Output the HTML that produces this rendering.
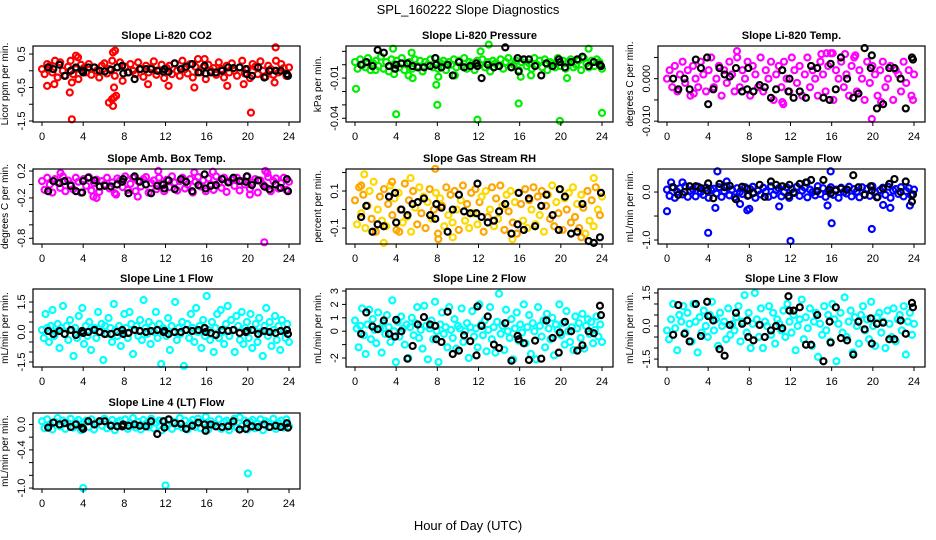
<!DOCTYPE html>
<html><head><meta charset="utf-8"><style>
html,body{margin:0;padding:0;background:#fff;}
svg{display:block;font-family:"Liberation Sans",Arial,sans-serif;}
</style></head><body>
<svg id="chart" width="936" height="540" viewBox="0 0 936 540">
<rect width="936" height="540" fill="#fff"/>
<text x="468" y="14" text-anchor="middle" font-size="13">SPL_160222  Slope Diagnostics</text>
<text x="468" y="530" text-anchor="middle" font-size="13">Hour of Day (UTC)</text>
</svg>
<script>
const blackHours=[0.6,1.1,1.7,2.2,2.8,3.3,3.9,4.0,4.5,5.1,5.6,6.1,6.7,7.3,7.8,7.9,8.4,9.0,9.5,10.1,10.6,11.2,11.8,11.9,12.3,12.9,13.5,14.0,14.6,15.2,15.8,15.9,16.4,16.9,17.5,18.1,18.6,19.2,19.8,19.9,20.4,21.0,21.6,22.1,22.7,23.2,23.8,23.9];
const xTicks=[0,4,8,12,16,20,24];

const co2Vals=[0.05,-0.1,0.2,0.15,-0.05,0.3,-0.2,0.25,0.0,-0.15,0.12,0.3,-0.1,0.05,-0.25,0.18,0.08,-0.05,0.2,-0.12,0.1,0.0,-0.2,0.15,0.22,-0.08,0.05,0.3,-0.15,0.1,0.25,-0.3,0.12,-0.05,0.2,0.0,-0.1,0.25,0.05,-0.18,0.15,-0.05,0.1,0.28,-0.12,0.0,0.18,-0.22,0.08,0.15,-0.1,0.22,0.0,-0.15,0.3,0.05,-0.08,0.2,-0.2,0.12,0.35,-0.05,0.1,-0.25,0.18,0.0,0.08,-0.12,0.25,0.05,-0.2,0.15,-0.05,0.22,0.0,-0.15,0.1,0.3,-0.08,0.05,-0.22,0.2,0.12,-0.1,0.28,0.0,-0.18,0.15,0.05,-0.12,0.3,-0.05,0.2,0.08,-0.15,0.1];
const co2Extra=[[0.5,-0.45],[1.2,-0.4],[2.7,-0.65],[2.9,-0.35],[2.9,-1.45],[3.3,0.45],[6.5,-0.95],[6.8,-0.85],[6.9,-1.05],[7.0,-0.8],[7.2,-0.75],[7.1,0.6],[6.9,0.55],[7.0,-0.5],[10.3,-0.4],[12.3,-0.45],[14.8,-0.5],[18.0,-0.45],[19.6,-0.4],[20.3,-1.25],[22.7,0.7],[22.6,-0.35],[3.5,0.4],[15.8,0.35]];
const co2Black=[0.1,0.05,0.18,-0.15,0.0,0.1,0.0,-0.05,0.1,0.1,0.0,-0.02,0.03,0.1,0.15,-0.08,-0.05,-0.25,0.05,0.05,0.05,0.0,-0.02,0.05,-0.03,0.22,0.05,0.12,0.2,-0.05,0.15,-0.08,-0.05,-0.05,0.0,0.1,0.08,0.1,0.05,-0.1,-0.15,0.1,-0.2,0.0,0.0,0.0,-0.1,-0.15];

const presVals=[0.002,-0.003,0.004,0.0,-0.002,0.005,-0.004,0.001,0.003,-0.001,0.006,-0.003,0.002,-0.005,0.004,0.0,0.003,-0.002,0.005,-0.004,0.001,0.002,-0.003,0.004,-0.001,0.003,-0.005,0.002,0.0,0.004,-0.002,0.005,-0.003,0.001,0.003,-0.004,0.002,0.0,0.004,-0.002,0.003,-0.001,0.005,-0.003,0.002,0.001,-0.004,0.003,0.0,0.004,-0.002,0.002,-0.005,0.003,0.001,-0.001,0.004,-0.003,0.002,0.005,-0.002,0.0,0.003,-0.004,0.002,0.004,-0.001,0.001,-0.003,0.005,0.0,0.003,-0.002,0.004,-0.004,0.002,0.001,-0.002,0.005,-0.001,0.003,-0.003,0.002,0.004,-0.002,0.0,0.003,-0.004,0.005,0.001,-0.002,0.003,-0.001,0.004,0.002,-0.003];
const presExtra=[[0.1,-0.018],[3.7,0.012],[3.8,-0.007],[4.0,-0.037],[5.5,0.009],[5.2,-0.008],[5.6,-0.010],[7.9,-0.015],[8.0,-0.030],[8.1,-0.009],[11.9,-0.041],[12.2,0.010],[13.0,0.015],[15.9,-0.029],[16.1,-0.009],[17.1,-0.008],[19.9,-0.042],[20.6,-0.010],[22.7,0.012],[24.0,-0.036],[2.0,-0.004],[9.7,-0.008]];
const presBlack=[0.0,0.002,-0.001,0.011,0.009,-0.001,-0.003,0.0,0.001,0.001,-0.001,-0.002,-0.002,-0.001,0.005,0.0,-0.002,0.0,-0.008,0.002,-0.002,-0.001,0.001,-0.001,-0.010,0.0,-0.002,-0.001,0.013,-0.002,0.005,-0.005,0.004,0.004,-0.001,-0.008,0.001,-0.001,0.004,0.002,-0.002,0.002,0.004,0.006,-0.001,0.002,0.0,-0.001];

const tempVals=[0.0,0.002,-0.002,0.003,-0.003,0.001,0.004,-0.001,0.002,-0.004,0.003,0.0,-0.002,0.004,0.001,-0.003,0.002,0.005,-0.002,0.0,0.003,-0.004,0.002,-0.001,0.004,0.001,-0.003,0.005,-0.002,0.002,0.0,0.004,-0.004,0.003,0.001,-0.002,0.005,-0.003,0.002,0.0,0.004,-0.005,0.001,0.003,-0.002,0.004,0.0,-0.003,0.005,0.002,-0.001,0.003,-0.004,0.001,0.005,-0.002,0.002,0.0,-0.004,0.004,0.001,-0.003,0.003,0.006,-0.005,0.002,0.0,0.004,-0.002,0.001,-0.004,0.003,0.005,-0.003,0.002,0.0,-0.005,0.004,-0.001,0.003,0.001,-0.004,0.002,0.004,-0.002,0.0,0.003,-0.005,0.002,0.001,-0.003,0.004,-0.001,0.002,-0.004,0.001];
const tempExtra=[[6.8,0.0065],[11.2,-0.0055],[11.3,-0.006],[15.0,0.0058],[15.5,0.006],[17.3,0.0058],[18.3,0.0055],[19.9,-0.0095],[20.8,-0.0055],[23.9,-0.005],[2.6,-0.0035],[16.1,0.006]];
const tempBlack=[0.0,-0.0025,0.0,-0.0025,0.0045,0.0025,0.005,-0.006,-0.0025,0.0025,0.001,0.0005,0.0025,-0.003,-0.0025,0.0025,-0.003,-0.0015,-0.002,-0.0045,-0.0025,0.002,-0.003,0.0,-0.0045,-0.003,-0.0045,0.003,0.0025,-0.0045,-0.005,0.0035,-0.0025,0.005,0.0,-0.0045,-0.0035,0.0072,0.0025,0.0055,-0.007,-0.006,0.0025,0.0025,0.0,-0.007,0.005,0.0045];

const ambVals=[0.05,-0.08,0.1,0.0,-0.12,0.08,0.03,-0.05,0.12,-0.1,0.06,0.0,-0.07,0.1,0.04,-0.12,0.08,-0.02,0.11,-0.09,0.02,0.07,-0.11,0.05,0.0,0.1,-0.06,0.03,-0.13,0.09,0.06,-0.04,0.12,-0.08,0.01,0.1,-0.1,0.05,-0.03,0.08,0.11,-0.12,0.02,0.06,-0.07,0.1,0.0,-0.1,0.07,-0.04,0.12,0.03,-0.09,0.05,0.1,-0.06,0.0,0.08,-0.12,0.04,0.11,-0.03,0.06,-0.1,0.09,0.0,-0.08,0.12,0.02,-0.05,0.1,-0.11,0.04,0.07,-0.02,0.1,-0.09,0.05,0.0,0.12,-0.07,0.03,0.08,-0.12,0.06,0.0,-0.04,0.11,-0.1,0.05,0.09,-0.06,0.02,0.1,-0.08,0.04];
const ambExtra=[[1.8,0.17],[5.0,-0.18],[5.3,-0.2],[7.2,-0.15],[9.3,-0.18],[11.3,0.2],[14.8,0.18],[16.6,0.19],[21.7,0.2],[21.9,0.17],[21.6,-0.86],[20.2,-0.15]];
const ambBlack=[-0.1,0.05,0.02,0.05,-0.02,-0.1,-0.12,0.05,0.1,0.06,-0.03,-0.02,-0.03,0.0,0.04,0.08,-0.13,0.12,0.04,0.0,-0.13,-0.02,0.0,-0.06,0.06,-0.07,0.08,0.04,-0.1,-0.01,0.15,-0.06,-0.02,-0.01,0.08,0.03,0.1,0.05,0.04,0.12,-0.01,0.06,-0.03,-0.07,0.0,-0.05,0.08,-0.1];

const rhVals=[0.05,-0.08,0.12,-0.02,0.08,-0.1,0.02,0.1,-0.05,0.15,-0.12,0.0,0.07,-0.06,0.11,-0.09,0.03,0.13,-0.03,0.06,-0.11,0.09,0.0,-0.07,0.14,-0.04,0.05,-0.12,0.1,0.01,-0.08,0.12,-0.02,0.07,-0.1,0.04,0.11,-0.05,0.0,0.09,-0.13,0.06,0.02,-0.09,0.12,-0.03,0.08,-0.07,0.1,0.0,-0.11,0.05,0.13,-0.06,0.03,-0.1,0.09,-0.02,0.11,-0.08,0.04,0.07,-0.12,0.1,-0.04,0.0,0.12,-0.09,0.06,-0.05,0.13,0.02,-0.11,0.08,-0.01,0.1,-0.07,0.04,-0.13,0.09,0.03,-0.06,0.11,-0.1,0.05,0.0,0.12,-0.08,0.07,-0.03,0.1,-0.12,0.02,0.08,-0.05,0.13,-0.09,0.04,-0.02,0.11,-0.11,0.06,0.0,0.09,-0.07,0.12,-0.04,0.03,-0.1,0.08,0.01,-0.13,0.1,-0.06,0.05,-0.09,0.12,0.0,-0.03,0.07];
const rhExtra=[[0.6,0.13],[0.9,0.19],[3.6,0.15],[5.4,0.17],[7.8,0.22],[2.8,-0.18],[8.1,-0.16],[15.3,-0.16],[22.0,-0.15],[23.2,0.17],[4.3,-0.12],[9.5,-0.15]];
const rhBlack=[-0.04,0.02,-0.12,-0.08,-0.09,0.07,0.09,-0.07,0.0,-0.03,0.03,0.04,0.06,-0.03,-0.05,0.03,0.01,-0.12,0.0,0.08,-0.01,-0.02,-0.02,0.14,-0.04,-0.07,-0.06,-0.01,0.03,-0.13,-0.08,0.09,-0.11,0.06,-0.09,0.02,0.08,-0.03,-0.11,0.11,0.07,-0.13,-0.12,0.03,-0.17,-0.18,-0.15,0.09];

const flowVals=[0.05,-0.08,0.1,-0.12,0.0,0.08,-0.05,0.12,-0.1,0.03,0.06,-0.09,0.11,0.0,-0.06,0.09,-0.12,0.04,0.07,-0.03,0.1,-0.1,0.02,0.12,-0.07,0.05,-0.11,0.08,0.0,-0.04,0.1,-0.08,0.06,0.11,-0.12,0.03,-0.05,0.09,0.01,-0.1,0.12,-0.06,0.04,0.08,-0.09,0.0,0.1,-0.12,0.06,-0.02,0.11,-0.08,0.03,0.09,-0.11,0.05,0.0,-0.07,0.12,-0.04,0.08,-0.1,0.02,0.1,-0.06,0.05,-0.12,0.09,0.0,-0.03,0.11,-0.09,0.06,0.01,-0.11,0.1,-0.05,0.07,-0.08,0.12,0.0,-0.1,0.04,0.09,-0.06,0.11,-0.12,0.03,0.06,-0.04,0.1,-0.09,0.02,0.08,-0.07,0.05];
const flowExtra=[[0.0,-0.4],[0.4,0.2],[1.5,0.2],[4.0,-0.85],[4.7,-0.33],[4.9,0.43],[5.8,0.22],[7.1,-0.25],[7.8,-0.38],[8.0,-0.35],[10.9,-0.3],[12.0,-1.02],[15.9,0.43],[16.0,-0.65],[15.6,-0.28],[19.9,-0.77],[21.0,-0.27],[21.7,-0.33],[23.6,-0.28],[13.6,0.2]];
const flowBlack=[0.1,-0.06,0.0,0.12,0.12,0.08,0.03,0.18,-0.13,0.17,0.1,0.13,-0.15,0.11,0.07,-0.07,-0.02,0.15,-0.1,0.22,0.15,0.12,-0.08,0.15,-0.01,0.17,0.2,0.25,0.02,0.25,0.05,-0.03,0.03,0.07,0.05,0.35,0.1,-0.06,0.12,0.03,-0.11,0.07,0.17,0.27,0.0,0.22,-0.2,-0.05];

const l1Vals=[0.1,-0.3,0.9,0.2,-0.5,0.3,1.1,-0.2,0.0,0.4,-0.8,0.2,1.3,-0.1,0.3,-0.4,0.6,0.1,-1.2,0.2,-0.3,0.8,0.0,1.2,-0.6,0.3,-0.2,0.5,-0.9,0.1,0.2,-0.3,1.0,0.0,0.4,-1.4,0.3,-0.1,0.7,0.2,-0.5,1.4,0.1,-0.2,0.3,-0.7,0.0,0.9,0.2,-0.3,1.0,0.4,-1.1,0.1,0.3,-0.2,0.6,-0.4,1.6,0.2,-0.1,0.5,-0.6,0.3,0.0,1.0,-0.3,0.4,-1.6,0.2,0.1,-0.2,0.7,-0.9,0.3,0.0,1.5,-0.4,0.2,-0.1,0.5,-1.7,0.1,0.4,-0.3,0.9,0.2,-0.5,1.2,0.0,0.3,-0.8,0.6,-0.2,1.8,0.1,-0.4,0.5,-1.0,0.2,0.9,-0.3,1.1,0.0,-0.6,0.4,1.3,-0.2,0.6,0.1,-1.0,0.8,0.3,-0.4,1.0,-0.6,0.2,0.5,-0.3,0.9,-0.8,0.1,0.4,-0.5,0.7,0.0,-1.2,0.3,1.2,-0.2,0.5,-0.7,0.1,0.8,-0.4,0.3,-0.9,0.6,0.0,-0.3,0.4,-0.5];
const l1Black=[0.05,-0.1,0.05,-0.1,0.1,-0.15,0.05,-0.05,0.0,0.1,0.0,-0.1,-0.1,0.0,0.1,-0.1,-0.05,0.1,0.05,0.0,0.05,0.1,0.0,0.05,-0.1,0.0,0.0,0.1,0.05,0.1,0.2,0.0,-0.05,-0.15,0.1,0.05,0.1,-0.05,0.0,0.05,0.1,-0.1,0.05,0.0,-0.05,0.05,0.1,-0.1];

const l2Vals=[0.8,0.2,-1.2,0.4,1.7,-0.3,-1.7,0.5,1.6,-0.6,0.9,0.1,-0.9,1.4,0.2,-1.6,0.6,-0.2,1.2,0.3,-0.8,2.3,0.0,-2.3,0.7,-0.4,1.1,0.2,-1.0,0.5,-2.0,0.3,1.0,-0.3,0.6,1.8,-0.5,0.1,-1.3,1.9,0.4,-2.1,0.2,0.8,-0.6,2.2,0.0,-2.3,0.5,1.4,-0.2,0.3,-1.2,1.8,0.1,-0.5,0.9,-1.3,0.4,0.2,1.7,-0.8,0.0,0.6,-2.0,0.3,1.5,-0.4,0.2,-1.2,2.0,0.5,-0.3,0.8,-1.5,0.1,1.8,-0.6,0.3,-1.6,0.7,2.8,-0.2,0.4,-1.4,1.6,0.0,-0.5,0.9,-2.1,0.2,1.4,-0.7,0.5,-0.1,2.0,-0.9,0.3,1.2,-1.7,0.6,0.0,-2.1,1.8,0.4,-0.4,0.8,-1.2,1.3,0.2,-0.6,1.0,-1.8,0.5,0.1,2.0,-0.3,0.6,-1.0,1.5,0.0,-0.8,0.3,-1.4,1.1,0.2,0.6,-0.5,1.3,-1.3,0.4,0.9,-0.2,0.7,-0.9,0.1,1.1,-0.4,0.5,-0.8];
const l2Black=[-0.2,1.4,0.35,0.15,0.8,-0.2,-0.4,0.85,0.0,-2.05,-1.1,0.5,1.05,0.5,0.4,-0.6,-0.8,1.45,-1.7,-1.45,-0.3,-0.75,-1.8,1.85,0.4,1.1,-1.0,-1.25,0.6,-2.2,-0.35,-0.6,-0.9,-2.15,-0.7,-2.05,0.8,-0.5,-1.6,-0.1,0.7,0.0,-1.45,-1.05,0.0,-0.15,1.9,1.2];

const l3Vals=[-0.2,-0.6,0.3,1.0,-0.1,-1.1,0.5,0.2,0.9,-0.3,0.6,0.1,-0.7,1.0,0.2,-1.2,0.4,-0.3,0.7,0.0,-0.5,0.5,1.1,-0.2,0.3,-0.9,0.6,0.0,0.2,-0.6,0.8,-0.4,0.1,-0.2,0.4,0.9,-0.7,0.2,1.4,-0.3,0.6,-1.0,0.1,1.5,0.3,-0.5,0.8,-1.0,0.2,0.0,0.9,-0.4,0.6,-0.8,0.3,0.1,-0.2,0.7,-0.5,1.0,0.2,-0.3,0.5,-1.1,0.0,0.3,1.2,-0.6,0.4,-0.1,0.8,-0.9,0.2,0.6,-1.4,0.1,-0.4,0.9,-0.2,0.5,-0.7,1.0,0.3,-1.6,0.1,0.6,-0.3,1.3,-0.5,0.2,0.7,-1.2,0.4,0.0,-0.8,0.5,0.9,-0.2,0.3,-0.6,1.1,0.0,-0.9,0.4,0.6,-0.3,0.2,-1.0,0.7,0.1,-0.5,0.8,-0.7,0.3,0.5,-0.2,0.9,-1.3,0.2,0.6,-0.4,0.1];
const l3Black=[-0.4,0.95,-0.35,-0.7,1.0,-0.45,1.1,0.45,0.25,-1.05,-1.35,0.05,0.6,0.1,0.25,-0.5,-0.65,0.05,-0.5,-0.2,0.0,-0.1,1.35,0.7,0.7,0.85,-0.85,-0.85,0.5,-1.6,0.2,-0.75,0.85,-0.55,-0.65,-1.3,0.2,-0.15,0.35,-0.8,0.1,0.15,-0.6,-0.6,0.25,-0.35,1.05,0.85];

const l4Vals=[0.05,-0.06,0.08,0.0,-0.08,0.04,0.1,-0.03,0.06,-0.07,0.02,0.09,-0.05,0.03,0.07,-0.09,0.01,0.06,-0.04,0.08,-0.08,0.03,0.05,-0.02,0.09,-0.06,0.0,0.07,-0.09,0.04,0.06,-0.03,0.08,-0.07,0.02,0.1,-0.05,0.04,-0.08,0.07,0.01,-0.04,0.09,-0.06,0.03,0.06,-0.09,0.05,0.0,0.08,-0.07,0.04,-0.02,0.1,-0.05,0.06,-0.08,0.02,0.07,-0.04,0.09,-0.06,0.03,0.12,-0.08,0.05,0.0,-0.03,0.08,-0.07,0.04,0.06,-0.09,0.02,0.09,-0.05,0.11,-0.02,0.06,-0.08,0.04,0.07,-0.06,0.01,0.08,-0.09,0.05,0.03,-0.04,0.09,-0.07,0.02,0.06,-0.05,0.08,-0.03];
const l4Extra=[[4.0,-1.0],[12.0,-0.96],[20.0,-0.77]];
const l4Black=[-0.05,0.03,0.0,0.02,-0.04,0.0,-0.05,-0.07,0.05,0.0,0.05,0.05,-0.02,-0.03,-0.03,0.0,-0.02,0.0,-0.02,-0.03,0.05,-0.15,0.05,-0.05,0.08,0.02,0.01,-0.07,-0.02,0.03,0.0,-0.1,0.0,-0.03,-0.04,-0.03,0.05,-0.08,-0.07,0.02,-0.03,-0.04,0.0,-0.04,-0.02,-0.04,0.02,-0.05];

const panels=[
 {id:'co2',title:'Slope Li-820 CO2',ylab:'Licor ppm per min.',c:0,r:0,ylim:[-1.53,0.74],ticks:[-1.5,-1,-0.5,0,0.5],labels:{'-1.5':'-1.5','-0.5':'-0.5','0.5':'0.5'},color:['#ff0000'],vals:co2Vals,extra:co2Extra,black:co2Black},
 {id:'pressure',title:'Slope Li-820 Pressure',ylab:'kPa per min.',c:1,r:0,ylim:[-0.0428,0.014],ticks:[-0.04,-0.03,-0.02,-0.01,0,0.01],labels:{'-0.04':'-0.04','-0.01':'-0.01'},color:['#00ee00'],vals:presVals,extra:presExtra,black:presBlack},
 {id:'temp',title:'Slope Li-820 Temp.',ylab:'degrees C per min.',c:2,r:0,ylim:[-0.0102,0.0077],ticks:[-0.01,-0.005,0,0.005],labels:{'-0.01':'-0.010','0':'0.000'},color:['#ff00ff'],vals:tempVals,extra:tempExtra,black:tempBlack},
 {id:'amb-box-temp',title:'Slope Amb. Box Temp.',ylab:'degrees C per min.',c:0,r:1,ylim:[-0.885,0.23],ticks:[-0.8,-0.6,-0.4,-0.2,0,0.2],labels:{'-0.8':'-0.8','-0.2':'-0.2','0.2':'0.2'},color:['#ff00ff'],vals:ambVals,extra:ambExtra,black:ambBlack},
 {id:'gas-stream-rh',title:'Slope Gas Stream RH',ylab:'percent per min.',c:1,r:1,ylim:[-0.186,0.219],ticks:[-0.1,0,0.1,0.2],labels:{'-0.1':'-0.1','0.1':'0.1'},color:['#ffa500','#ffd800'],vals:rhVals,extra:rhExtra,black:rhBlack},
 {id:'sample-flow',title:'Slope Sample Flow',ylab:'mL/min per min.',c:2,r:1,ylim:[-1.083,0.48],ticks:[-1,-0.5,0],labels:{'-1':'-1.0','0':'0.0'},color:['#0000ff'],vals:flowVals,extra:flowExtra,black:flowBlack},
 {id:'line1-flow',title:'Slope Line 1 Flow',ylab:'mL/min per min.',c:0,r:2,ylim:[-1.75,2.15],ticks:[-1.5,-1,-0.5,0,0.5,1,1.5],labels:{'-1.5':'-1.5','0':'0.0','1.5':'1.5'},color:['#00ffff'],vals:l1Vals,extra:[],black:l1Black},
 {id:'line2-flow',title:'Slope Line 2 Flow',ylab:'mL/min per min.',c:1,r:2,ylim:[-2.67,3.15],ticks:[-2,-1,0,1,2,3],labels:{'-2':'-2','0':'0','1':'1','2':'2','3':'3'},color:['#00ffff'],vals:l2Vals,extra:[],black:l2Black},
 {id:'line3-flow',title:'Slope Line 3 Flow',ylab:'mL/min per min.',c:2,r:2,ylim:[-1.86,1.68],ticks:[-1.5,-1,-0.5,0,0.5,1,1.5],labels:{'-1.5':'-1.5','0':'0.0','1.5':'1.5'},color:['#00ffff'],vals:l3Vals,extra:[],black:l3Black},
 {id:'line4-flow',title:'Slope Line 4 (LT) Flow',ylab:'mL/min per min.',c:0,r:3,ylim:[-1.015,0.18],ticks:[-1,-0.8,-0.6,-0.4,-0.2,0],labels:{'-1':'-1.0','-0.4':'-0.4','0':'0.0'},color:['#00ffff'],vals:l4Vals,extra:l4Extra,black:l4Black}
];
const colLeft=[33,346,658], rowTop=[46,169,289,413], rowBot=[122,244,367,489];
const NS='http://www.w3.org/2000/svg';
const svg=document.getElementById('chart');
function mk(tag,attrs,parent){const e=document.createElementNS(NS,tag);for(const k in attrs)e.setAttribute(k,attrs[k]);parent.appendChild(e);return e;}

panels.forEach(p=>{
  const L=colLeft[p.c], R=L+267, T=rowTop[p.r], B=rowBot[p.r];
  const xs=h=>L+9+h*(247/24);
  const ys=v=>B-(v-p.ylim[0])/(p.ylim[1]-p.ylim[0])*(B-T);
  const g=mk('g',{},svg);
  
  
  const t=mk('text',{x:(L+R)/2,y:T-7,'text-anchor':'middle','font-size':'11','font-weight':'bold'},g);
  t.textContent=p.title;
  
  
  const yl=mk('text',{transform:`translate(${L-25},${(T+B)/2}) rotate(-90)`,'text-anchor':'middle','font-size':'10'},g);
  yl.textContent=p.ylab;
  
  
  const pts=mk('g',{fill:'none','stroke-width':'2.2'},g);
  
  
  const n=p.vals.length;
  p.vals.forEach((v,i)=>{
    const c=mk('circle',{cx:xs(i*24/(n-1)),cy:ys(v),r:3,stroke:p.color[i%p.color.length]},pts);
    
    
  });
  p.extra.forEach((d,i)=>{
    const c=mk('circle',{cx:xs(d[0]),cy:ys(d[1]),r:3,stroke:p.color[i%p.color.length]},pts);
    
    
  });
  p.black.forEach((v,i)=>{
    const c=mk('circle',{cx:xs(blackHours[i]),cy:ys(v),r:3,stroke:'#000'},pts);
    
    
  });
  const bx=mk('rect',{x:L,y:T,width:R-L,height:B-T,fill:'none',stroke:'#000','stroke-width':'1.2'},g);
  
  
  xTicks.forEach(h=>{
    const tk=mk('line',{x1:xs(h),x2:xs(h),y1:B,y2:B+4,stroke:'#000'},g);
    
    
    const tl=mk('text',{x:xs(h),y:B+18,'text-anchor':'middle','font-size':'11'},g);
    tl.textContent=h;
    
    
  });
  p.ticks.forEach(v=>{
    const tk=mk('line',{x1:L-4,x2:L,y1:ys(v),y2:ys(v),stroke:'#000'},g);
    
    
    const lab=p.labels[String(v)];
    if(lab!==undefined){
      const tl=mk('text',{transform:`translate(${L-8},${ys(v)}) rotate(-90)`,'text-anchor':'middle','font-size':'11'},g);
      tl.textContent=lab;
      
      
    }
  });
});
</script>
</body></html>
